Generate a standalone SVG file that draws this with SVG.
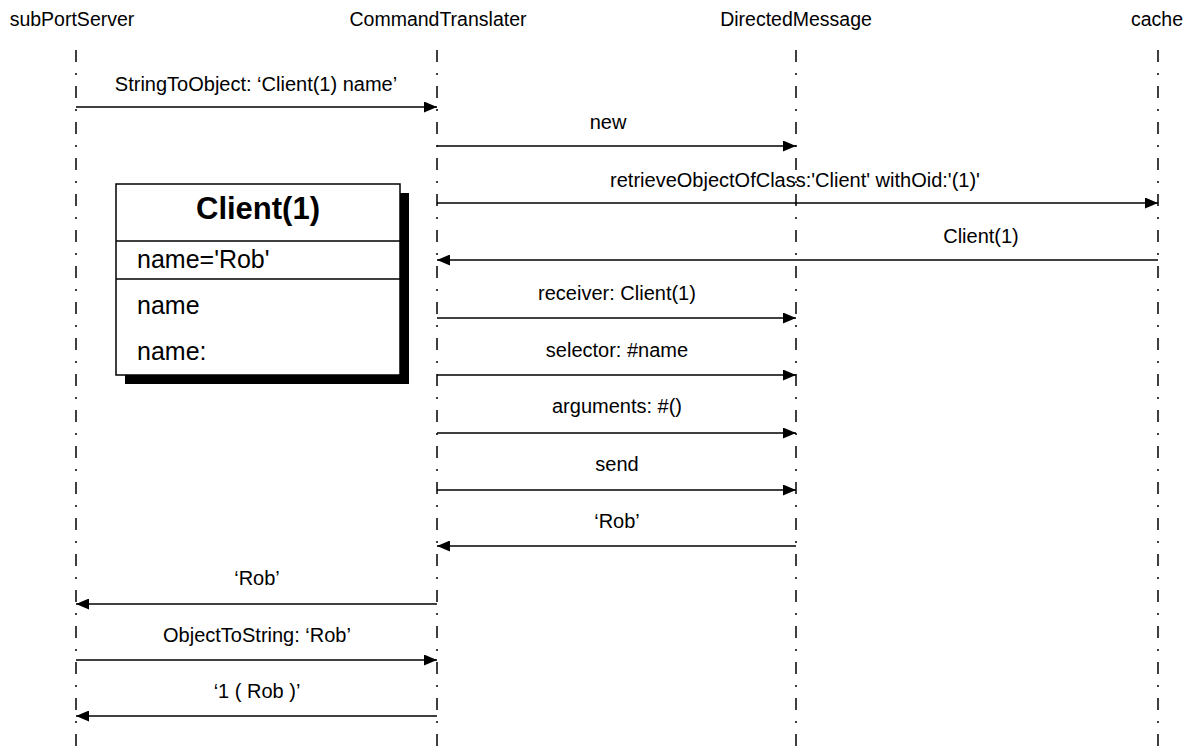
<svg xmlns="http://www.w3.org/2000/svg" width="1193" height="753" viewBox="0 0 1193 753">
<style>
text{font-family:"Liberation Sans",Arial,sans-serif;fill:#000}
.hdr{font-size:19.5px;text-anchor:middle}
.lbl{font-size:20px;text-anchor:middle}
.life{stroke:#000;stroke-width:1.5;stroke-dasharray:12 11 2 11;fill:none}
.msg{stroke:#000;stroke-width:1.5;fill:none}
.box{fill:#fff;stroke:#000;stroke-width:1.5}
.attr{font-size:25px}
</style>
<defs>
<marker id="ah" viewBox="0 0 13 11" refX="13" refY="5.5" markerWidth="13" markerHeight="11" markerUnits="userSpaceOnUse" orient="auto">
<path d="M0,0 L13,5.5 L0,11 Z" fill="#000"/>
</marker>
</defs>
<rect width="1193" height="753" fill="#fff"/>
<g id="subPortServer"><text class="hdr" x="72" y="26">subPortServer</text><line class="life" x1="76" y1="50" x2="76" y2="753"/></g>
<g id="CommandTranslater"><text class="hdr" x="438" y="26">CommandTranslater</text><line class="life" x1="437" y1="50" x2="437" y2="753"/></g>
<g id="DirectedMessage"><text class="hdr" x="796" y="26">DirectedMessage</text><line class="life" x1="796" y1="50" x2="796" y2="753"/></g>
<g id="cache"><text class="hdr" x="1157" y="26">cache</text><line class="life" x1="1158" y1="50" x2="1158" y2="753"/></g>
<g id="client1">
<rect x="125" y="193" width="284" height="191" fill="#000"/>
<rect class="box" x="116" y="184" width="284" height="191"/>
<line class="msg" x1="116" y1="241" x2="400" y2="241"/>
<line class="msg" x1="116" y1="279" x2="400" y2="279"/>
<text x="258" y="219" font-size="31" font-weight="bold" text-anchor="middle">Client(1)</text>
<text class="attr" x="137" y="268">name='Rob'</text>
<text class="attr" x="137" y="314">name</text>
<text class="attr" x="137" y="360">name:</text>
</g>
<g id="connectors">
<line class="msg" x1="76" y1="107" x2="437" y2="107" marker-end="url(#ah)"/>
<text class="lbl" x="256" y="91">StringToObject: ‘Client(1) name’</text>
<line class="msg" x1="437" y1="146" x2="796" y2="146" marker-end="url(#ah)"/>
<text class="lbl" x="608" y="129">new</text>
<line class="msg" x1="437" y1="203" x2="1158" y2="203" marker-end="url(#ah)"/>
<text class="lbl" x="795" y="187">retrieveObjectOfClass:'Client' withOid:'(1)'</text>
<line class="msg" x1="1158" y1="260" x2="437" y2="260" marker-end="url(#ah)"/>
<text class="lbl" x="981" y="243">Client(1)</text>
<line class="msg" x1="437" y1="318" x2="796" y2="318" marker-end="url(#ah)"/>
<text class="lbl" x="617" y="300">receiver: Client(1)</text>
<line class="msg" x1="437" y1="375" x2="796" y2="375" marker-end="url(#ah)"/>
<text class="lbl" x="617" y="357">selector: #name</text>
<line class="msg" x1="437" y1="433" x2="796" y2="433" marker-end="url(#ah)"/>
<text class="lbl" x="617" y="413">arguments: #()</text>
<line class="msg" x1="437" y1="490" x2="796" y2="490" marker-end="url(#ah)"/>
<text class="lbl" x="617" y="471">send</text>
<line class="msg" x1="796" y1="546" x2="437" y2="546" marker-end="url(#ah)"/>
<text class="lbl" x="617" y="528">‘Rob’</text>
<line class="msg" x1="437" y1="604" x2="76" y2="604" marker-end="url(#ah)"/>
<text class="lbl" x="257" y="585">‘Rob’</text>
<line class="msg" x1="76" y1="660" x2="437" y2="660" marker-end="url(#ah)"/>
<text class="lbl" x="257" y="642">ObjectToString: ‘Rob’</text>
<line class="msg" x1="437" y1="716" x2="76" y2="716" marker-end="url(#ah)"/>
<text class="lbl" x="257" y="698">‘1 ( Rob )’</text>
</g>
</svg>
